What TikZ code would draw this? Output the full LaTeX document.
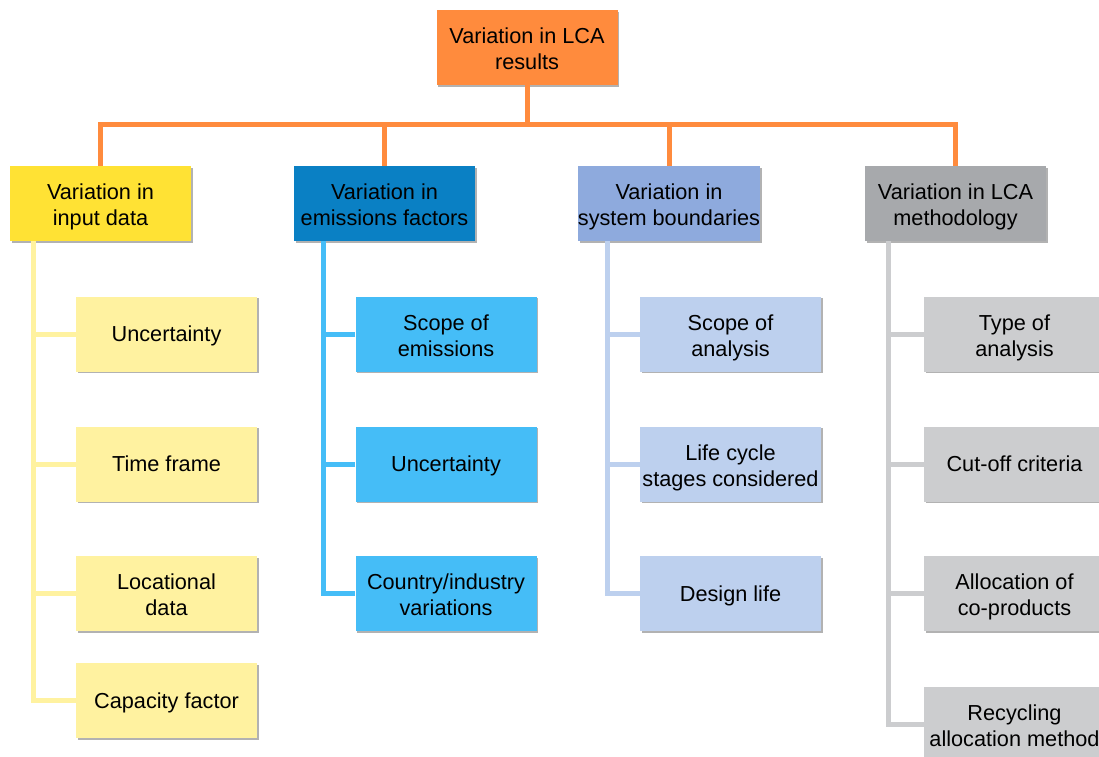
\documentclass[tikz,border=0pt]{standalone}
\usepackage{fontspec}
\setmainfont{Liberation Sans}
\usetikzlibrary{shadows}
\definecolor{cOr}{HTML}{FF8B3D}
\definecolor{cYh}{HTML}{FFE234}
\definecolor{cYc}{HTML}{FFF2A0}
\definecolor{cBh}{HTML}{0A80C4}
\definecolor{cBc}{HTML}{45BDF7}
\definecolor{cLh}{HTML}{8EAADD}
\definecolor{cLc}{HTML}{BDD0EE}
\definecolor{cGh}{HTML}{A7A9AC}
\definecolor{cGc}{HTML}{CCCDCF}
\newcommand{\boxstrut}{\rule[-5.5pt]{0pt}{26pt}}
\tikzset{
  box/.style={minimum width=181pt, minimum height=75pt, inner sep=0pt, align=center,
    font=\fontsize{21.7pt}{26pt}\selectfont,
    execute at begin node={\boxstrut}, execute at end node={\boxstrut},
    drop shadow={shadow xshift=1.8pt, shadow yshift=-1.8pt, fill=black, opacity=0.3}},
  two/.style={text height=46.4pt, text depth=2pt},
  link/.style={line width=5pt}
}
\begin{document}
\begin{tikzpicture}[x=1pt,y=-1pt]
\useasboundingbox (0,0) rectangle (1099,756);
\clip (0,0) rectangle (1099,756);
% top
\node[box, two, fill=cOr] (top) at (527,47.5) {Variation in LCA\\results};
% headers
\node[box, two, fill=cYh] (h1) at (100.5,203.5) {Variation in\\input data};
\node[box, two, fill=cBh] (h2) at (384.5,203.5) {Variation in\\emissions factors};
\node[box, two, fill=cLh] (h3) at (669,203.5) {Variation in\\system boundaries};
\node[box, two, fill=cGh] (h4) at (955.5,203.5) {Variation in LCA\\methodology};
% yellow children
\node[box, fill=cYc] (y1) at (166.5,334) {Uncertainty};
\node[box, fill=cYc] (y2) at (166.5,464) {Time frame};
\node[box, two, fill=cYc] (y3) at (166.5,593.5) {Locational\\data};
\node[box, fill=cYc] (y4) at (166.5,700.5) {Capacity factor};
% blue children
\node[box, two, fill=cBc] (b1) at (446,334) {Scope of\\emissions};
\node[box, fill=cBc] (b2) at (446,464) {Uncertainty};
\node[box, two, fill=cBc] (b3) at (446,593.5) {Country/industry\\variations};
% light blue children
\node[box, two, fill=cLc] (l1) at (730.5,334) {Scope of\\analysis};
\node[box, two, fill=cLc] (l2) at (730.5,464) {Life cycle\\stages considered};
\node[box, fill=cLc] (l3) at (730.5,593.5) {Design life};
% grey children
\node[box, two, fill=cGc] (g1) at (1014.5,334) {Type of\\analysis};
\node[box, fill=cGc] (g2) at (1014.5,464) {Cut-off criteria};
\node[box, two, fill=cGc] (g3) at (1014.5,593.5) {Allocation of\\co-products};
\node[box, two, fill=cGc] (g4) at (1014.5,724.5) {Recycling\\allocation method};
% top connectors
\coordinate (bus) at (527,124);
\draw[link, cOr] (top.south) -- (bus);
\draw[link, cOr] (h1.north) -- (h1.north |- bus) -| (h4.north);
\draw[link, cOr] (h2.north) -- (h2.north |- bus);
\draw[link, cOr] (h3.north) -- (h3.north |- bus);
% spines
\coordinate (s1) at (33,241);
\coordinate (s2) at (323,241);
\coordinate (s3) at (607,241);
\coordinate (s4) at (888,241);
\draw[link, cYc] (s1) |- (y4.west);
\foreach \n in {y1,y2,y3} \draw[link, cYc] (\n.west) -- (\n.west -| s1);
\draw[link, cBc] (s2) |- (b3.west);
\foreach \n in {b1,b2} \draw[link, cBc] (\n.west) -- (\n.west -| s2);
\draw[link, cLc] (s3) |- (l3.west);
\foreach \n in {l1,l2} \draw[link, cLc] (\n.west) -- (\n.west -| s3);
\draw[link, cGc] (s4) |- (g4.west);
\foreach \n in {g1,g2,g3} \draw[link, cGc] (\n.west) -- (\n.west -| s4);
\end{tikzpicture}
\end{document}
